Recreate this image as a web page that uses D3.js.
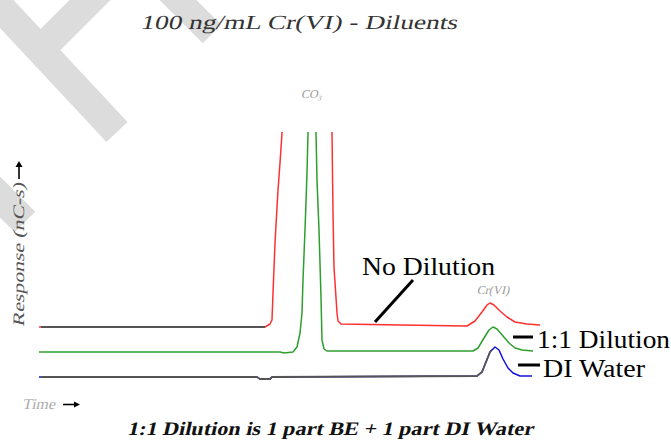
<!DOCTYPE html>
<html><head><meta charset="utf-8">
<script src="https://cdn.jsdelivr.net/npm/d3@7"></script>
<style>html,body{margin:0;padding:0;background:#fff;}svg{display:block;}</style>
</head><body>
<script>
// ---- data ----
const title = "100 ng/mL Cr(VI) - Diluents";
const subtitle = "1:1 Dilution is 1 part BE + 1 part DI Water";
const yLabel = "Response (nC-s)";
const xLabel = "Time";
const peakLabels = [{name:"CO\u2083", t:10.9, r:276}, {name:"Cr(VI)", t:18.16, r:80}];
const seriesNames = ["No Dilution", "1:1 Dilution", "DI Water"];
// [time (min), response] pairs, traces offset as plotted
const noDilution = [[0,50],[9.04,50],[9.24,53],[9.32,57],[9.36,84],[9.44,134],[9.56,187],[9.64,214],[9.72,244],[9.88,337],
  [11.56,337],[11.72,244],[11.76,164],[11.8,110],[11.92,64],[11.96,56],[12.08,53],[14.44,52],[17.12,51],[17.44,56],[17.72,65],
  [17.92,72],[18.04,74],[18.2,72],[18.44,66],[18.72,60],[19.04,55],[19.52,53],[20.04,52]];
const oneToOne = [[0,25],[9.64,25],[9.8,24],[10.16,25],[10.32,30],[10.44,44],[10.52,64],[10.56,97],[10.64,147],[10.72,204],
  [10.76,244],[10.8,277],[11.04,277],[11.08,244],[11.12,197],[11.2,147],[11.28,80],[11.32,37],[11.4,28],[11.52,26],[17.36,26],
  [17.56,29],[17.8,39],[18.0,47],[18.16,50],[18.32,48],[18.56,41],[18.8,34],[19.04,29],[19.32,27],[19.76,26]];
const diWater = [[0,0],[8.72,0],[8.84,-2],[9.24,-2],[9.32,0],[17.52,1],[17.72,5],[17.88,15],[18.04,25],[18.24,30],[18.4,27],
  [18.56,18],[18.76,9],[18.96,4],[19.24,1],[19.72,1]];
const seriesColors = ["#ff3030", "#2e9e2e", "#1010e0"];

// ---- drawing ----
const W = 671, H = 441;
const SERIF = "'Liberation Serif', 'Times New Roman', Times, serif";
const svg = d3.select("body").append("svg").attr("width", W).attr("height", H);

// watermark bands
const wm = svg.append("g").attr("stroke", "#dcdcdc").attr("stroke-linecap", "butt").attr("fill", "none");
[[[-25,-20],[117,132],29],[[105,-15],[33,57],29],[[165,-13],[212,34],26],[[-25,172],[25,222],29]].forEach(([a,b,w]) => {
  wm.append("line").attr("x1",a[0]).attr("y1",a[1]).attr("x2",b[0]).attr("y2",b[1]).attr("stroke-width",w);
});

const x = d3.scaleLinear().domain([0, 20]).range([39, 539]);
const y = d3.scaleLinear().domain([0, 245]).range([377, 132]);

const defs = svg.append("defs");
defs.append("clipPath").attr("id","plot")
  .append("rect").attr("x",30).attr("y",y(245)).attr("width",600).attr("height",300);
defs.append("clipPath").attr("id","greyRed")
  .append("rect").attr("x",x(0.08)).attr("y",0).attr("width",x(9.04)-x(0.08)).attr("height",H);
defs.append("clipPath").attr("id","greyBlue")
  .append("rect").attr("x",x(0.08)).attr("y",0).attr("width",x(18.1)-x(0.08)).attr("height",H);

const line = d3.line().x(d => x(d[0])).y(d => y(d[1]));
const plot = svg.append("g").attr("clip-path","url(#plot)").attr("fill","none").attr("stroke-width",1.5).attr("stroke-linejoin","round");
const traces = [noDilution, oneToOne, diWater];
traces.forEach((s,i) => plot.append("path").attr("d", line(s)).attr("stroke", seriesColors[i]));
plot.append("g").attr("clip-path","url(#greyRed)").append("path").attr("d", line(noDilution)).attr("stroke","#555").attr("stroke-width",1.8);
plot.append("g").attr("clip-path","url(#greyBlue)").append("path").attr("d", line(diWater)).attr("stroke","#555").attr("stroke-width",1.8);

// slanted (synthetic italic) serif text helper
function slanted(txt, tx, ty, opts) {
  const g = svg.append("g").attr("transform", `translate(${tx},${ty})${opts.rotate ? " rotate(" + opts.rotate + ")" : ""} skewX(-13)`);
  const t = g.append("text").attr("x",0).attr("y",0).attr("font-family",SERIF).attr("font-size",opts.size)
    .attr("fill",opts.fill).attr("text-anchor",opts.anchor || "start").text(txt);
  if (opts.len) t.attr("textLength",opts.len).attr("lengthAdjust","spacingAndGlyphs");
  if (opts.bold) t.attr("font-weight","bold");
  return t;
}

// peak labels
peakLabels.forEach(p => slanted(p.name, x(p.t), y(p.r) - 3, {size:12, fill:"#999", anchor:"middle"}));

// title & subtitle
slanted(title, 140, 29, {size:20, fill:"#333", len:317});
slanted(subtitle, 127, 435, {size:19, fill:"#111", len:406, bold:true});

// series labels
const lab = (txt, xx, yy, len) => {
  svg.append("text").attr("x",xx).attr("y",yy).attr("textLength",len).attr("lengthAdjust","spacingAndGlyphs")
    .attr("font-family",SERIF).attr("font-size",26).attr("fill","#000").text(txt);
};
lab(seriesNames[0], 362, 275, 133);
lab(seriesNames[1], 537, 348, 133);
lab(seriesNames[2], 543, 377, 102);
const pointer = svg.append("g").attr("stroke","#000").attr("stroke-width",3);
pointer.append("line").attr("x1",375).attr("y1",322).attr("x2",413).attr("y2",280);
pointer.append("line").attr("x1",513).attr("y1",337).attr("x2",533).attr("y2",337);
pointer.append("line").attr("x1",518).attr("y1",365).attr("x2",540).attr("y2",365);

// axis labels with arrows
slanted(yLabel, 24, 327, {size:16, fill:"#555", len:144, rotate:-90});
svg.append("line").attr("x1",19).attr("y1",179).attr("x2",19).attr("y2",166).attr("stroke","#000").attr("stroke-width",1.6);
svg.append("path").attr("d","M15.5,167 L19,161 L22.5,167 Z").attr("fill","#000");
slanted(xLabel, 22, 409, {size:15, fill:"#aaa", len:33});
svg.append("line").attr("x1",63).attr("y1",404.5).attr("x2",75).attr("y2",404.5).attr("stroke","#000").attr("stroke-width",1.6);
svg.append("path").attr("d","M74,401.5 L80,404.5 L74,407.5 Z").attr("fill","#000");
</script>
</body></html>
